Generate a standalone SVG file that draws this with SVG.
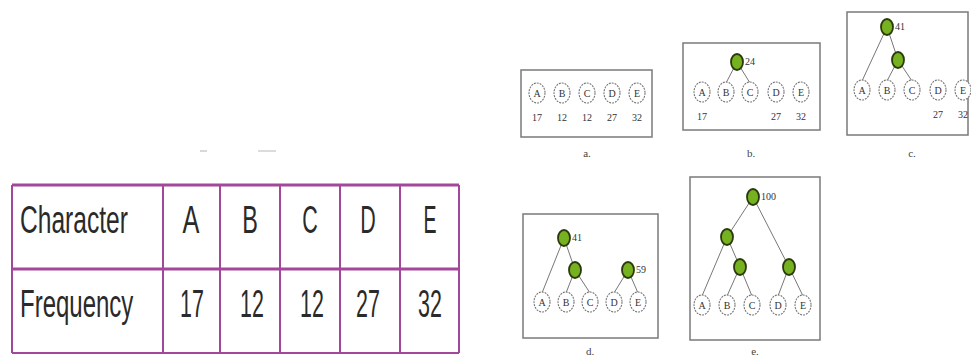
<svg xmlns="http://www.w3.org/2000/svg" width="971" height="360" viewBox="0 0 971 360">
<style>
.tb{font-family:"Liberation Sans",Arial,sans-serif;font-size:39px;fill:#2a2a2a}
.tc{font-family:"Liberation Sans",Arial,sans-serif;font-size:39px;fill:#2a2a2a;text-anchor:middle}
.grid{stroke:#a3479a;fill:none}
.box{fill:#fff;stroke:#7a7a7a;stroke-width:1.5}
.lf{fill:#fff;stroke:#777;stroke-width:1.1;stroke-dasharray:2 1}
.g{fill:#76b11f;stroke:#2b3a0c;stroke-width:1.8}
.e{stroke:#777;stroke-width:1;fill:none}
.t{font-family:"Liberation Serif","Times New Roman",serif;font-size:10px;fill:#333}
.lt{font-family:"Liberation Serif","Times New Roman",serif;font-size:10px;fill:#333;text-anchor:middle}
.cap{font-family:"Liberation Serif","Times New Roman",serif;font-size:11px;fill:#444;text-anchor:middle}
</style>
<defs>
<g id="nA"><ellipse class="lf" rx="8" ry="10"/><text class="lt" y="3.5">A</text></g>
<g id="nB"><ellipse class="lf" rx="8" ry="10"/><text class="lt" y="3.5">B</text></g>
<g id="nC"><ellipse class="lf" rx="8" ry="10"/><text class="lt" y="3.5">C</text></g>
<g id="nD"><ellipse class="lf" rx="8" ry="10"/><text class="lt" y="3.5">D</text></g>
<g id="nE"><ellipse class="lf" rx="8" ry="10"/><text class="lt" y="3.5">E</text></g>
<ellipse id="gn" class="g" rx="6" ry="8"/>
</defs>
<rect width="971" height="360" fill="#fff"/>
<rect x="200" y="150" width="7" height="2" fill="#d8d8d8"/>
<rect x="258" y="150" width="18" height="2" fill="#dcdcdc"/>

<g id="table">
<line class="grid" x1="12" y1="185" x2="459" y2="185" stroke-width="3"/>
<line class="grid" x1="12" y1="269" x2="459" y2="269" stroke-width="3"/>
<line class="grid" x1="12" y1="353" x2="459" y2="353" stroke-width="2"/>
<line class="grid" x1="12" y1="185" x2="12" y2="353" stroke-width="2"/>
<line class="grid" x1="163" y1="185" x2="163" y2="353" stroke-width="2"/>
<line class="grid" x1="220" y1="185" x2="220" y2="353" stroke-width="2"/>
<line class="grid" x1="280" y1="185" x2="280" y2="353" stroke-width="2"/>
<line class="grid" x1="340" y1="185" x2="340" y2="353" stroke-width="2"/>
<line class="grid" x1="400" y1="185" x2="400" y2="353" stroke-width="2"/>
<line class="grid" x1="459" y1="185" x2="459" y2="353" stroke-width="2"/>
<text class="tb" transform="translate(20,233) scale(0.63,1)">Character</text>
<text class="tb" transform="translate(20,317) scale(0.615,1)">Frequency</text>
<text class="tc" transform="translate(191,233) scale(0.65,1)">A</text>
<text class="tc" transform="translate(250,233) scale(0.6,1)">B</text>
<text class="tc" transform="translate(310,233) scale(0.55,1)">C</text>
<text class="tc" transform="translate(368,233) scale(0.55,1)">D</text>
<text class="tc" transform="translate(430,233) scale(0.5,1)">E</text>
<text class="tc" transform="translate(192,317) scale(0.55,1)">17</text>
<text class="tc" transform="translate(252,317) scale(0.55,1)">12</text>
<text class="tc" transform="translate(312,317) scale(0.55,1)">12</text>
<text class="tc" transform="translate(368,317) scale(0.55,1)">27</text>
<text class="tc" transform="translate(430,317) scale(0.55,1)">32</text>
</g>

<g id="panel-a">
<rect class="box" x="521" y="70" width="131" height="67"/>
<use href="#nA" x="537" y="93"/><use href="#nB" x="562" y="93"/><use href="#nC" x="587" y="93"/><use href="#nD" x="612" y="93"/><use href="#nE" x="637" y="93"/>
<text class="lt" x="537" y="121">17</text><text class="lt" x="562" y="121">12</text><text class="lt" x="587" y="121">12</text><text class="lt" x="612" y="121">27</text><text class="lt" x="637" y="121">32</text>
<text class="cap" x="587" y="157">a.</text>
</g>

<g id="panel-b">
<rect class="box" x="683" y="43" width="137" height="87"/>
<g class="connectors"><line class="e" x1="737" y1="62" x2="726" y2="83"/><line class="e" x1="737" y1="62" x2="750" y2="83"/></g>
<use href="#nA" x="702" y="92"/><use href="#nB" x="726" y="92"/><use href="#nC" x="750" y="92"/><use href="#nD" x="776" y="92"/><use href="#nE" x="801" y="92"/>
<use href="#gn" x="737" y="62"/><text class="t" x="745" y="65">24</text>
<text class="lt" x="702" y="120">17</text><text class="lt" x="776" y="120">27</text><text class="lt" x="801" y="120">32</text>
<text class="cap" x="751" y="157">b.</text>
</g>

<g id="panel-c">
<rect class="box" x="847" y="12" width="121" height="123"/>
<g class="connectors"><line class="e" x1="887" y1="27" x2="862" y2="81"/><line class="e" x1="887" y1="27" x2="898" y2="60"/><line class="e" x1="898" y1="60" x2="887" y2="81"/><line class="e" x1="898" y1="60" x2="912" y2="81"/></g>
<use href="#nA" x="862" y="90"/><use href="#nB" x="887" y="90"/><use href="#nC" x="912" y="90"/><use href="#nD" x="938" y="90"/><use href="#nE" x="963" y="90"/>
<use href="#gn" x="887" y="27"/><use href="#gn" x="898" y="60"/><text class="t" x="895" y="30">41</text>
<text class="lt" x="938" y="118">27</text><text class="lt" x="963" y="118">32</text>
<text class="cap" x="912" y="157">c.</text>
</g>

<g id="panel-d">
<rect class="box" x="523" y="214" width="135" height="124"/>
<g class="connectors"><line class="e" x1="564" y1="238" x2="542" y2="293"/><line class="e" x1="564" y1="238" x2="575" y2="270"/><line class="e" x1="575" y1="270" x2="566" y2="293"/><line class="e" x1="575" y1="270" x2="590" y2="293"/><line class="e" x1="628" y1="270" x2="614" y2="293"/><line class="e" x1="628" y1="270" x2="638" y2="293"/></g>
<use href="#nA" x="542" y="302"/><use href="#nB" x="566" y="302"/><use href="#nC" x="590" y="302"/><use href="#nD" x="614" y="302"/><use href="#nE" x="638" y="302"/>
<use href="#gn" x="564" y="238"/><use href="#gn" x="575" y="270"/><use href="#gn" x="628" y="270"/>
<text class="t" x="572" y="241">41</text><text class="t" x="636" y="273">59</text>
<text class="cap" x="590" y="355">d.</text>
</g>

<g id="panel-e">
<rect class="box" x="690" y="177" width="130" height="163"/>
<g class="connectors"><line class="e" x1="753" y1="197" x2="727" y2="237"/><line class="e" x1="753" y1="197" x2="789" y2="267"/><line class="e" x1="727" y1="237" x2="702" y2="296"/><line class="e" x1="727" y1="237" x2="740" y2="267"/><line class="e" x1="740" y1="267" x2="727" y2="296"/><line class="e" x1="740" y1="267" x2="752" y2="296"/><line class="e" x1="789" y1="267" x2="778" y2="296"/><line class="e" x1="789" y1="267" x2="803" y2="296"/></g>
<use href="#nA" x="702" y="305"/><use href="#nB" x="727" y="305"/><use href="#nC" x="752" y="305"/><use href="#nD" x="778" y="305"/><use href="#nE" x="803" y="305"/>
<use href="#gn" x="753" y="197"/><use href="#gn" x="727" y="237"/><use href="#gn" x="740" y="267"/><use href="#gn" x="789" y="267"/>
<text class="t" x="761" y="200">100</text>
<text class="cap" x="755" y="355">e.</text>
</g>
</svg>
